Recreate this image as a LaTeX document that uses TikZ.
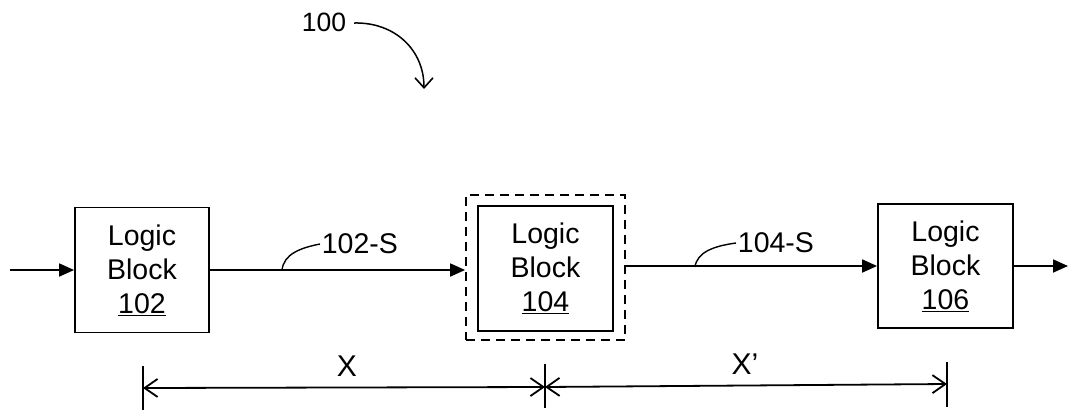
\documentclass[tikz,border=0pt]{standalone}
\usepackage{fontspec}
\setmainfont{Liberation Sans}
\usetikzlibrary{arrows.meta}
\newcommand{\ulnum}[1]{\underline{\smash{#1}}\vphantom{#1}}
\begin{document}
\begin{tikzpicture}[x=1pt,y=-1pt,
  line width=1.8pt,
  block/.style={draw, rectangle, minimum width=134pt, minimum height=125pt, inner sep=0pt,
    align=center, font=\fontsize{28.5}{34}\selectfont},
  dashbox/.style={draw, dash pattern=on 9pt off 6pt, rectangle, minimum width=159pt, minimum height=145pt, inner sep=0pt},
  sig/.style={-{Triangle[length=15pt,width=13pt]}},
  lbl/.style={font=\fontsize{28.5}{30}\selectfont, inner sep=1pt},
  dim/.style={{Straight Barb[length=13pt,width=18pt,line width=1.8pt]}-{Straight Barb[length=13pt,width=18pt,line width=1.8pt]}},
  tick/.style={line width=1.8pt}
]
\useasboundingbox (0,0) rectangle (1069,413);

% blocks
\node[block] (b102) at (142,270) {Logic\\Block\\\underline{102}};
\node[block, minimum width=135pt] (b104) at (545.5,268.5) {Logic\\Block\\\underline{104}};
\node[dashbox] (d104) at (545.5,267.5) {};
\node[block, minimum width=135pt, minimum height=124pt] (b106) at (945.5,266) {Logic\\Block\\\underline{106}};

% input / output
\coordinate (in) at (10,270);
\coordinate (out) at (1068,266);
\draw[sig] (in) -- (b102.west |- in);
\draw[sig] (b102.east) -- (b102.east -| d104.west);
\draw[sig] (d104.east |- b106.west) -- (b106.west);
\draw[sig] (b106.east) -- (out);

% signal labels
\node[lbl, anchor=west] (s102) at (320,244) {102-S};
\coordinate (p102) at (282,270);
\draw[line width=1.4pt] (p102) .. controls (284,254) and (300,248) .. (s102.west);
\node[lbl, anchor=west] (s104) at (736,243) {104-S};
\coordinate (p104) at (695,267);
\draw[line width=1.4pt] (p104) .. controls (697,252) and (714,246) .. (s104.west);

% 100 label
\node[font=\fontsize{26.5}{28}\selectfont, anchor=east, inner sep=1pt] (n100) at (348,22) {100};
\coordinate (t100) at (424,89);
\draw[-{Straight Barb[length=10pt,width=18pt,line width=1.6pt]}, line width=1.5pt]
  (n100.east) ++(6,1) .. controls (395,22) and (424,50) .. (t100);

% dimension lines
\coordinate (ta) at (143,366);
\coordinate (tb) at (545,364);
\coordinate (tc) at (947,362);
\coordinate (ta2) at (143,410);
\coordinate (tb2) at (545,408);
\coordinate (tc2) at (947,407);
\draw[tick] (ta) -- (ta2);
\draw[tick] (tb) -- (tb2);
\draw[tick] (tc) -- (tc2);
\coordinate (da) at (143,388);
\coordinate (db) at (545,387);
\coordinate (dc) at (947,384);
\draw[dim] (da) -- (db);
\draw[dim] (db) -- (dc);
\node[font=\fontsize{30}{32}\selectfont] (X) at (347,366) {X};
\node[font=\fontsize{30}{32}\selectfont] (Xp) at (745,364) {X’};
\end{tikzpicture}
\end{document}
